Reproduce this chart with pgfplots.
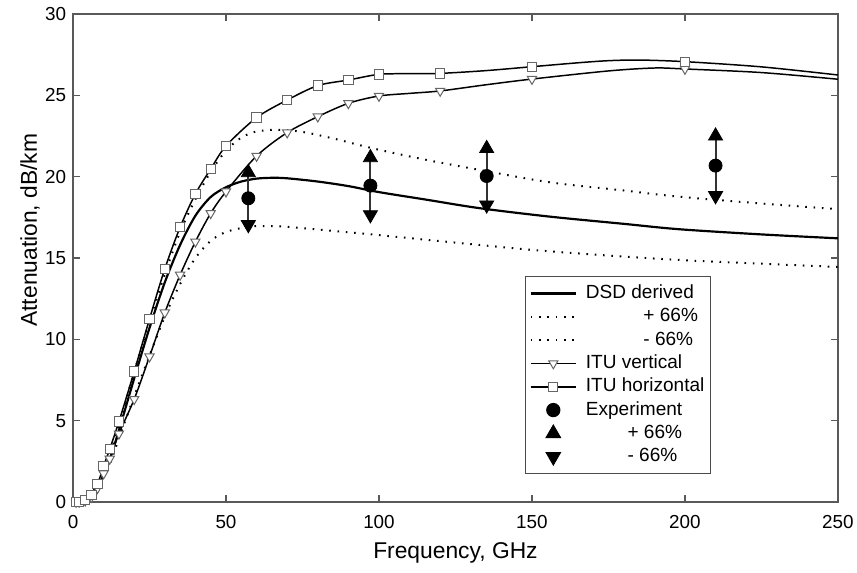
\documentclass[border=0pt]{standalone}
\usepackage{fontspec}
\setmainfont{Liberation Sans}
\usepackage{pgfplots}
\usepackage{pgfplotstable}
\pgfplotsset{compat=1.18}

\pgfplotstableread{
x y
0 0
2 0.05
5 0.3
8 1.0
10 1.65
12 2.6
15 4.4
20 7.6
25 10.7
30 13.5
35 15.8
40 17.6
45 18.75
50 19.35
55 19.7
60 19.88
65 19.93
70 19.9
80 19.7
90 19.42
100 19.05
115 18.6
133 18.06
156 17.54
180 17.1
198 16.77
225 16.45
250 16.21
}\dsd

\pgfplotstableread{
x y
0 0
2 0.06
5 0.35
8 1.1
10 1.8
12 2.8
15 4.7
20 8.0
25 11.1
30 14.0
35 16.6
40 18.6
45 20.3
50 21.6
55 22.4
60 22.78
67 22.88
75 22.75
85 22.35
98 21.74
115 21.05
133 20.41
156 19.65
180 19.15
198 18.77
225 18.35
250 18.0
}\dsdplus

\pgfplotstableread{
x y
0 0
2 0.04
5 0.25
8 0.9
10 1.5
12 2.3
15 3.9
20 6.5
25 9.0
30 11.4
35 13.4
40 15.0
45 16.05
50 16.6
57.8 16.93
65 16.96
70 16.92
80 16.75
96 16.48
122 16.0
150 15.5
175 15.15
198 14.88
225 14.65
250 14.45
}\dsdminus

% ITU horizontal: line (with extra points) and marker points
\pgfplotstableread{
x y
1 0.0
2 0.02
4 0.12
6 0.45
8 1.1
10 2.2
12 3.25
15 4.94
20 8.02
25 11.25
30 14.33
35 16.89
40 18.94
45 20.47
50 21.89
60 23.63
70 24.71
80 25.6
90 25.94
100 26.29
110 26.33
120 26.35
135 26.52
150 26.76
165 27.0
175 27.13
185 27.17
200 27.07
225 26.75
250 26.25
}\ituhline

\pgfplotstableread{
x y
1 0.0
2 0.02
4 0.12
6 0.45
8 1.1
10 2.2
12 3.25
15 4.94
20 8.02
25 11.25
30 14.33
35 16.89
40 18.94
45 20.47
50 21.89
60 23.63
70 24.71
80 25.6
90 25.94
100 26.29
120 26.35
150 26.76
200 27.07
}\ituhmark

\pgfplotstableread{
x y
1 0.0
2 0.01
4 0.08
6 0.3
8 0.85
10 1.75
12 2.65
15 4.2
20 6.32
25 8.94
30 11.64
35 13.96
40 16.0
45 17.75
50 19.08
60 21.27
70 22.71
80 23.69
90 24.51
100 24.96
110 25.12
120 25.27
135 25.65
150 26.0
175 26.5
190 26.68
200 26.62
225 26.4
250 25.99
}\ituvline

\pgfplotstableread{
x y
1 0.0
2 0.01
4 0.08
6 0.3
8 0.85
10 1.75
12 2.65
15 4.2
20 6.32
25 8.94
30 11.64
35 13.96
40 16.0
45 17.75
50 19.08
60 21.27
70 22.71
80 23.69
90 24.51
100 24.96
120 25.27
150 26.0
200 26.62
}\ituvmark

\pgfplotstableread{
x y up dn
57.3 18.67 20.25 17.05
97.2 19.45 21.17 17.66
135.2 20.04 21.73 18.26
210.0 20.68 22.50 18.83
}\expdata

\begin{document}
\begin{tikzpicture}
\useasboundingbox (-36.8pt,-35.3pt) rectangle (395.2pt,253.06pt);
\begin{axis}[
  at={(0pt,0pt)}, anchor=south west,
  scale only axis, width=385.6pt, height=246pt,
  xmin=0, xmax=250, ymin=0, ymax=30,
  xtick={0,50,...,250}, ytick={0,5,...,30},
  tick align=inside, tick pos=both,
  major tick length=3.5pt,
  clip=false,
  axis line style={black!65, line width=0.8pt},
  every tick/.style={black!65, line width=0.8pt},
  /pgf/number format/assume math mode=true,
  tick label style={font=\fontsize{9.5}{11}\selectfont},
  xticklabel style={yshift=-3pt},
  label style={font=\fontsize{11.5}{13}\selectfont},
  xlabel={Frequency, GHz}, ylabel={Attenuation, dB/km},
  xlabel style={at={(axis description cs:0.5,-0.1045)}, anchor=center},
  ylabel style={at={(axis description cs:-0.0562,0.557)}, anchor=center},
  mylineleg/.style={legend image code/.code={\draw[mark repeat=2,mark phase=2,##1] plot coordinates {(0cm,0cm) (0.4cm,0cm) (0.8cm,0cm)};}},
  mymarkleg/.style={legend image code/.code={\draw[##1] plot coordinates {(0.4cm,0cm)};}},
  dotst/.style={black, line width=1pt, dash pattern=on 0.8pt off 3.4pt},
  legend style={at={(axis description cs:0.591,0.463)}, anchor=north west,
    draw=black!70, line width=0.6pt, font=\fontsize{9.6}{11}\selectfont,
    row sep=0.75pt, column sep=3.5pt, inner xsep=2pt, inner ysep=3pt,
    nodes={inner sep=1pt, text height=7pt, text depth=2pt}},
  legend cell align=left,
]
% DSD curves
\addplot[black, line width=1.1pt, smooth, tension=0.5, forget plot] table[x=x,y=y] {\dsd};
\addplot[dotst, smooth, tension=0.5, forget plot] table[x=x,y=y] {\dsdplus};
\addplot[dotst, smooth, tension=0.5, forget plot] table[x=x,y=y] {\dsdminus};
% ITU
\addplot[black, line width=0.75pt, smooth, tension=0.5, forget plot] table[x=x,y=y] {\ituvline};
\addplot[black, line width=0.75pt, smooth, tension=0.5, forget plot] table[x=x,y=y] {\ituhline};
\addplot[only marks, mark=triangle*, mark size=2.7pt, mark options={rotate=180, fill=white, draw=black!60, line width=0.5pt}, forget plot] table[x=x,y=y] {\ituvmark};
\addplot[only marks, mark=square*, mark size=2.35pt, mark options={fill=white, draw=black!60, line width=0.5pt}, forget plot] table[x=x,y=y] {\ituhmark};
% Experiment arrows
\addplot[black!80, line width=1pt, forget plot] coordinates {(57.3,17.05) (57.3,20.25)};
\addplot[black!80, line width=1pt, forget plot] coordinates {(97.2,17.66) (97.2,21.17)};
\addplot[black!80, line width=1pt, forget plot] coordinates {(135.2,18.26) (135.2,21.73)};
\addplot[black!80, line width=1pt, forget plot] coordinates {(210.0,18.83) (210.0,22.50)};
\addplot[only marks, mark=triangle*, mark size=4.1pt, mark options={fill=black, draw=black}, forget plot] table[x=x,y=up] {\expdata};
\addplot[only marks, mark=triangle*, mark size=4.1pt, mark options={rotate=180, fill=black, draw=black}, forget plot] table[x=x,y=dn] {\expdata};
\addplot[only marks, mark=*, mark size=3.3pt, mark options={fill=black, draw=black}, forget plot] table[x=x,y=y] {\expdata};

% Legend
\addlegendimage{mylineleg, black, line width=1.1pt}
\addlegendentry{DSD derived}
\addlegendimage{mylineleg, dotst}
\addlegendentry{\hspace*{29pt}+ 66\%}
\addlegendimage{mylineleg, dotst}
\addlegendentry{\hspace*{29pt}- 66\%}
\addlegendimage{mylineleg, black, line width=0.75pt, mark=triangle*, mark size=2.7pt, mark options={rotate=180, fill=white, draw=black!60, line width=0.5pt}}
\addlegendentry{ITU vertical}
\addlegendimage{mylineleg, black, line width=0.75pt, mark=square*, mark size=2.35pt, mark options={fill=white, draw=black!60, line width=0.5pt}}
\addlegendentry{ITU horizontal}
\addlegendimage{mymarkleg, black, mark=*, mark size=3.3pt}
\addlegendentry{Experiment}
\addlegendimage{mymarkleg, black, mark=triangle*, mark size=4.1pt}
\addlegendentry{\hspace*{21pt}+ 66\%}
\addlegendimage{mymarkleg, black, mark=triangle*, mark size=4.1pt, mark options={rotate=180}}
\addlegendentry{\hspace*{21pt}- 66\%}
\end{axis}
\end{tikzpicture}
\end{document}
